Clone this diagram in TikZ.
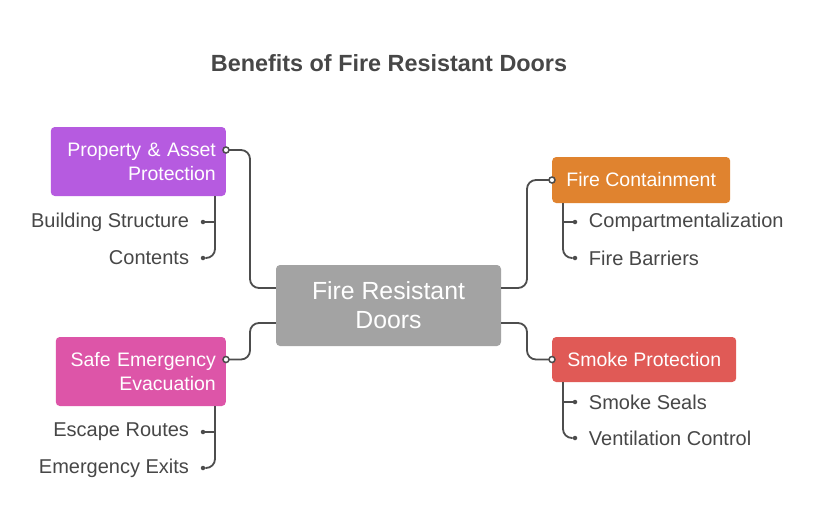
\documentclass[tikz,border=0pt]{standalone}
\usepackage{fontspec}
\setmainfont{Liberation Sans}
\usetikzlibrary{positioning}
\definecolor{doorgray}{HTML}{A3A3A3}
\definecolor{assetpurple}{HTML}{B65BE0}
\definecolor{evacpink}{HTML}{DD55A8}
\definecolor{fireorange}{HTML}{E0832F}
\definecolor{smokered}{HTML}{E05A56}
\definecolor{linegray}{HTML}{4D4D4D}
\definecolor{textgray}{HTML}{474747}

\begin{document}
\begin{tikzpicture}[x=1pt,y=-1pt]
\useasboundingbox[fill=white] (0,0) rectangle (816,528);
\begin{scope}
\tikzstyle{every node}=[font=\fontsize{20}{24}\selectfont, text=textgray];
\tikzstyle{box}=[rounded corners=4pt, text=white, inner xsep=10pt, inner ysep=0pt, font=\fontsize{19.5}{24}\selectfont];
\tikzstyle{conn}=[draw=linegray, line width=1.8pt, rounded corners=9pt];
\tikzstyle{port}=[circle, draw=linegray, line width=1.5pt, fill=white, inner sep=0pt, minimum size=6pt];
\tikzstyle{dot}=[circle, fill=linegray, inner sep=0pt, minimum size=4.5pt];

% title
\draw (389,63) node[font=\bfseries\fontsize{23.4}{26}\selectfont, text=textgray] (title) {Benefits of Fire Resistant Doors};

% main boxes
\draw (388.5,305.5) node[box, fill=doorgray, minimum width=225pt, minimum height=81pt, align=center,
  font=\fontsize{24.8}{29}\selectfont] (centre) {Fire Resistant\\Doors};
\draw (226,161.5) node[box, fill=assetpurple, anchor=east, text width=155pt, minimum height=69pt, align=right] (asset) {Property \& Asset\\Protection};
\draw (226,371.5) node[box, fill=evacpink, anchor=east, text width=150pt, minimum height=69pt, align=right] (evac) {Safe Emergency\\Evacuation};
\draw (552,180) node[box, fill=fireorange, anchor=west, minimum width=178pt, minimum height=46pt] (fire) {Fire Containment};
\draw (552,359.5) node[box, fill=smokered, anchor=west, minimum width=184pt, minimum height=45pt] (smoke) {Smoke Protection};

% branches to the centre
\draw[conn] ([yshift=11.5pt]asset.east) -- ++(24,0) |- ([yshift=17.5pt]centre.west);
\draw[conn] ([yshift=12pt]evac.east) -- ++(24,0) |- ([yshift=-17.5pt]centre.west);
\draw[conn] (fire.west) -- ++(-25,0) |- ([yshift=17.5pt]centre.east);
\draw[conn] (smoke.west) -- ++(-25,0) |- ([yshift=-17.5pt]centre.east);
\node[port] (p1) at ([yshift=11.5pt]asset.east) {};
\node[port] (p2) at ([yshift=12pt]evac.east) {};
\node[port] (p3) at (fire.west) {};
\node[port] (p4) at (smoke.west) {};

% sub items left
\node[dot] (a1) at (203,222) {};
\node[dot] (a2) at (203,258) {};
\node[left=8pt of a1] (build) {Building Structure};
\node[left=8pt of a2] (contents) {Contents};
\draw[conn] ([xshift=-11pt]asset.south east) |- (a2);
\draw[conn] (a1) -- ++(12,0);

\node[dot] (e1) at (203,432) {};
\node[dot] (e2) at (203,468) {};
\node[left=8pt of e1] (routes) {Escape Routes};
\node[left=8pt of e2] (exits) {Emergency Exits};
\draw[conn] ([xshift=-11pt]evac.south east) |- (e2);
\draw[conn] (e1) -- ++(12,0);

% sub items right
\node[dot] (f1) at (575,222) {};
\node[dot] (f2) at (575,258) {};
\node[right=8pt of f1] (compart) {Compartmentalization};
\node[right=8pt of f2] (barriers) {Fire Barriers};
\draw[conn] ([xshift=11pt]fire.south west) |- (f2);
\draw[conn] (f1) -- ++(-12,0);

\node[dot] (s1) at (575,402) {};
\node[dot] (s2) at (575,438) {};
\node[right=8pt of s1] (seals) {Smoke Seals};
\node[right=8pt of s2] (vent) {Ventilation Control};
\draw[conn] ([xshift=11pt]smoke.south west) |- (s2);
\draw[conn] (s1) -- ++(-12,0);
\end{scope}
\end{tikzpicture}
\end{document}
